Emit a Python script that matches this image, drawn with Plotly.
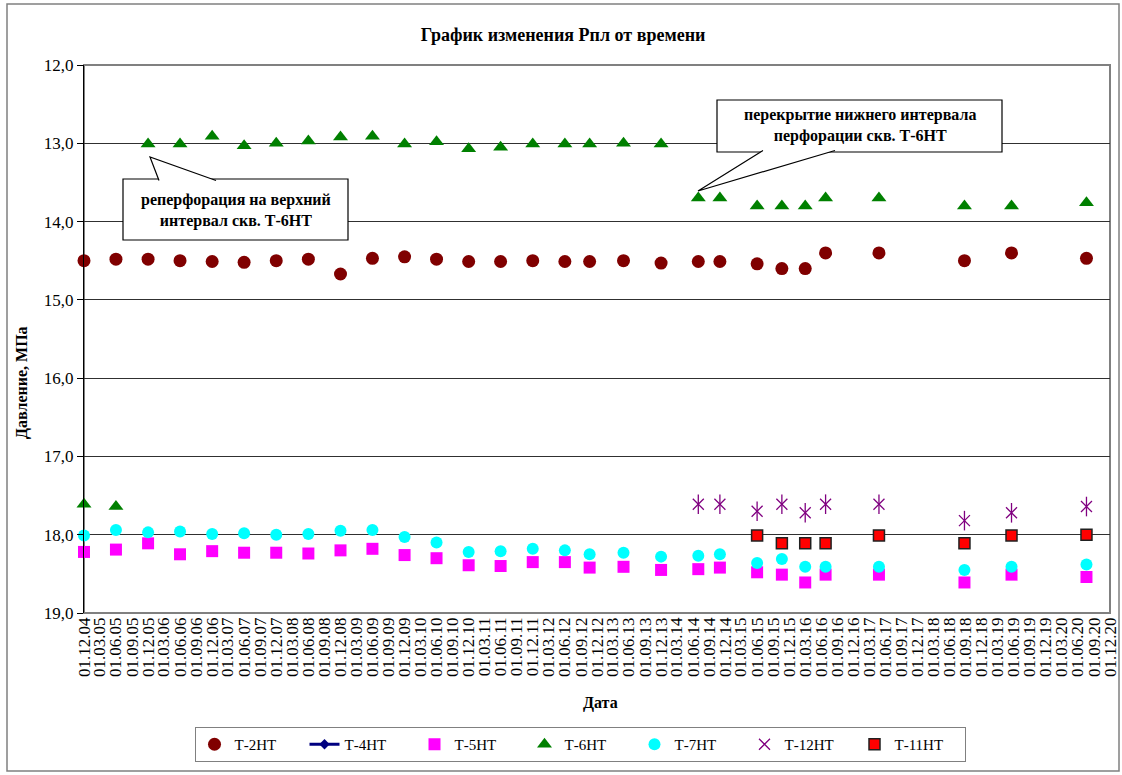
import pandas as pd
import plotly.graph_objects as go

# measurement dates (shared by all wells)
dates = ['2004-12-01', '2005-06-01', '2005-12-01', '2006-06-01', '2006-12-01',
         '2007-06-01', '2007-12-01', '2008-06-01', '2008-12-01', '2009-06-01',
         '2009-12-01', '2010-06-01', '2010-12-01', '2011-06-01', '2011-12-01',
         '2012-06-01', '2012-10-20', '2013-05-01', '2013-12-01', '2014-07-01',
         '2014-11-01', '2015-06-01', '2015-10-20', '2016-03-01', '2016-06-25',
         '2017-04-25', '2018-08-25', '2019-05-20', '2020-07-20']

t2 = [14.50, 14.48, 14.48, 14.50, 14.51, 14.52, 14.50, 14.48, 14.67, 14.47,
      14.45, 14.48, 14.51, 14.51, 14.50, 14.51, 14.51, 14.50, 14.53, 14.51,
      14.51, 14.54, 14.60, 14.60, 14.40, 14.40, 14.50, 14.40, 14.47]
t5 = [18.22, 18.19, 18.11, 18.25, 18.21, 18.23, 18.23, 18.24, 18.20, 18.18,
      18.26, 18.30, 18.39, 18.40, 18.35, 18.35, 18.42, 18.41, 18.45, 18.44,
      18.42, 18.48, 18.51, 18.61, 18.51, 18.51, 18.61, 18.51, 18.54]
t6 = [17.61, 17.64, 13.01, 13.01, 12.91, 13.03, 13.00, 12.97, 12.92, 12.91,
      13.01, 12.98, 13.07, 13.05, 13.01, 13.01, 13.01, 13.00, 13.01, 13.70,
      13.70, 13.80, 13.80, 13.80, 13.70, 13.70, 13.80, 13.80, 13.76]
t7 = [18.01, 17.94, 17.97, 17.96, 17.99, 17.98, 18.00, 17.99, 17.95, 17.94,
      18.03, 18.10, 18.22, 18.21, 18.18, 18.20, 18.25, 18.23, 18.28, 18.27,
      18.25, 18.36, 18.31, 18.41, 18.41, 18.41, 18.45, 18.41, 18.38]
t12 = [None] * 19 + [17.61, 17.61, 17.70, 17.61, 17.72, 17.61, 17.61, 17.82, 17.72, 17.64]
t11 = [None] * 21 + [18.01, 18.11, 18.11, 18.11, 18.01, 18.11, 18.01, 18.00]

y_ticks = [12, 13, 14, 15, 16, 17, 18, 19]
y_labels = ['12,0', '13,0', '14,0', '15,0', '16,0', '17,0', '18,0', '19,0']

x_ticks = pd.date_range('2004-12-01', '2020-12-01', freq='3MS')
x_labels = [d.strftime('%d.%m.%y') for d in x_ticks]

FONT = '"Times New Roman", "Liberation Serif", serif'

# plot area in pixels (for the callout shapes)
L, R, T, B = 84, 1110, 65, 613


def px(x):
    return (x - L) / (R - L)


def py(y):
    return (B - y) / (B - T)


fig = go.Figure()
fig.add_trace(go.Scatter(x=dates, y=t2, name='Т-2НТ', mode='markers', cliponaxis=False,
                         marker=dict(symbol='circle', size=13, color='#800000')))
fig.add_trace(go.Scatter(x=[None], y=[None], name='Т-4НТ', mode='lines+markers',
                         line=dict(color='#000080', width=3),
                         marker=dict(symbol='diamond', size=8, color='#000080')))
fig.add_trace(go.Scatter(x=dates, y=t5, name='Т-5НТ', mode='markers', cliponaxis=False,
                         marker=dict(symbol='square', size=12, color='#FF00FF')))
fig.add_trace(go.Scatter(x=dates, y=t6, name='Т-6НТ', mode='markers', cliponaxis=False,
                         marker=dict(symbol='triangle-up', size=13, color='#008000')))
fig.add_trace(go.Scatter(x=dates, y=t7, name='Т-7НТ', mode='markers', cliponaxis=False,
                         marker=dict(symbol='circle', size=12, color='#00FFFF')))
fig.add_trace(go.Scatter(x=dates, y=t12, name='Т-12НТ', mode='markers', legendgroup='t12',
                         marker=dict(symbol='x-thin-open', size=11, color='#800080',
                                     line=dict(color='#800080', width=1.3))))
fig.add_trace(go.Scatter(x=dates, y=t12, name='Т-12НТ', mode='markers', legendgroup='t12',
                         showlegend=False, hoverinfo='skip',
                         marker=dict(symbol='line-ns-open', size=14, color='#800080',
                                     line=dict(color='#800080', width=1.3))))
fig.add_trace(go.Scatter(x=dates, y=t11, name='Т-11НТ', mode='markers',
                         marker=dict(symbol='square', size=11, color='#FF0000',
                                     line=dict(color='#202020', width=1.5))))

shapes = [
    # outer chart frame
    dict(type='rect', xref='paper', yref='paper', x0=px(7), x1=px(1119), y0=py(771), y1=py(4),
         line=dict(color='#808080', width=1.5)),
    # plot area frame
    dict(type='rect', xref='paper', yref='paper', x0=0, x1=1, y0=0, y1=1,
         line=dict(color='#808080', width=2), layer='below'),
    # callout 1
    dict(type='rect', xref='paper', yref='paper', x0=px(123), x1=px(348), y0=py(240), y1=py(179),
         line=dict(color='black', width=1.2), fillcolor='white'),
    dict(type='path', xref='paper', yref='paper',
         path=f'M {px(159)},{py(180.5)} L {px(150)},{py(157)} L {px(216)},{py(180.5)}',
         line=dict(color='black', width=1.2), fillcolor='white'),
    # callout 2
    dict(type='rect', xref='paper', yref='paper', x0=px(717), x1=px(1002), y0=py(152), y1=py(100),
         line=dict(color='black', width=1.2), fillcolor='white'),
    dict(type='path', xref='paper', yref='paper',
         path=f'M {px(763)},{py(150.5)} L {px(698)},{py(191)} L {px(835)},{py(150.5)}',
         line=dict(color='black', width=1.2), fillcolor='white'),
]

annotations = [
    dict(text='<b>реперфорация на верхний<br>интервал скв. Т-6НТ</b>', xref='paper', yref='paper',
         x=px(235.5), y=py(210), xanchor='center', yanchor='middle', showarrow=False,
         font=dict(family=FONT, size=16, color='black')),
    dict(text='<b>перекрытие нижнего интервала<br>перфорации скв. Т-6НТ</b>', xref='paper',
         yref='paper', x=px(859.5), y=py(126), xanchor='center', yanchor='middle',
         showarrow=False, font=dict(family=FONT, size=16, color='black')),
    dict(text='<b>Давление, МПа</b>', xref='paper', yref='paper', x=px(22), y=py(383),
         xanchor='center', yanchor='middle', textangle=-90, showarrow=False,
         font=dict(family=FONT, size=16, color='black')),
    dict(text='<b>Дата</b>', xref='paper', yref='paper', x=px(600), y=py(703),
         xanchor='center', yanchor='middle', showarrow=False,
         font=dict(family=FONT, size=16, color='black')),
]

fig.update_layout(
    width=1122, height=775,
    margin=dict(l=L, r=1122 - R, t=T, b=775 - B, autoexpand=False),
    paper_bgcolor='white', plot_bgcolor='white',
    font=dict(family=FONT, size=16, color='black'),
    title=dict(text='<b>График изменения Рпл от времени</b>', x=563 / 1122, xanchor='center',
               y=1 - 35 / 775, yanchor='middle', font=dict(family=FONT, size=18, color='black')),
    showlegend=True,
    legend=dict(orientation='h', x=px(580), xanchor='center', y=py(727), yanchor='top',
                bordercolor='#808080', borderwidth=1, font=dict(family=FONT, size=15),
                entrywidth=65, itemwidth=30),
    shapes=shapes,
    annotations=annotations,
)
fig.update_xaxes(type='date', range=['2004-12-01', '2020-12-01'], tickvals=x_ticks,
                 ticktext=x_labels, tickangle=-90, showgrid=False, zeroline=False,
                 automargin=False, ticks='', tickfont=dict(family=FONT, size=17, color='black'))
fig.update_yaxes(range=[19, 12], tickvals=y_ticks, ticktext=y_labels, showgrid=True,
                 gridcolor='#303030', gridwidth=1, zeroline=False, showline=True,
                 automargin=False, linecolor='black', linewidth=1, ticks='outside', ticklen=6,
                 tickcolor='black', tickfont=dict(family=FONT, size=17, color='black'))

# the page's default body margin would shift the chart by 8px
fig.write_html('out.html', config={'displayModeBar': False},
               post_script="document.body.style.margin='0';")
